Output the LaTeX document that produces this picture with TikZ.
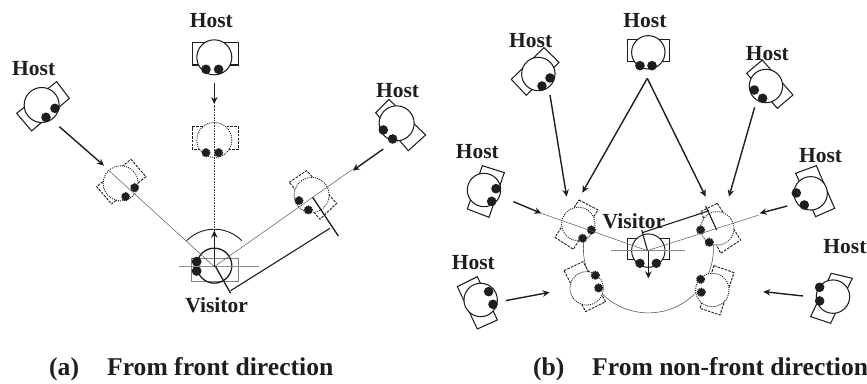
\documentclass[tikz,border=0pt]{standalone}
\usepackage{fontspec}
\setmainfont{Liberation Serif}
\usetikzlibrary{arrows.meta}
\definecolor{ink}{HTML}{1E1E1E}
\tikzset{
  hostline/.style={draw=ink,line width=1.05pt,fill=white},
  dotdisc/.style={fill=ink},
  ghostrect/.style={draw=ink,line width=0.9pt,dash pattern=on 2.6pt off 1.2pt},
  ghostring/.style={draw=ink,line width=0.9pt,dash pattern=on 1pt off 1.1pt,fill=white},
  ghostdisc/.style={draw=ink,fill=ink,line width=1.4pt,dash pattern=on 1pt off 0.8pt},
  lbl/.style={font=\bfseries\fontsize{21.5}{22}\selectfont,text=ink,inner sep=0pt},
  captxt/.style={font=\bfseries\fontsize{25.6}{26}\selectfont,text=ink,inner sep=0pt,anchor=base west},
  guide/.style={draw=black!65,line width=0.5pt},
  dotguide/.style={draw=black!75,line width=0.5pt,dash pattern=on 1pt off 0.6pt},
  cross/.style={draw=black!45,line width=0.9pt},
  mv/.style={draw=ink,line width=1.4pt,-{Stealth[length=7pt,width=6.5pt]}},
  bar/.style={draw=ink,line width=1.1pt},
  panelA/.style={x=0.3333pt,y=-0.3333pt},
  panelB/.style={x=0.3333pt,y=-0.3333pt,xshift=434pt},
}
% corners (4), centre, two discs, radius in pt
\newcommand{\hostbot}[8]{%
  \draw[hostline] #1 -- #2 -- #3 -- #4 -- cycle;
  \draw[hostline] #5 circle[radius=#8pt];
  \fill[dotdisc] #6 circle[radius=4.8pt] #7 circle[radius=4.8pt];}
\newcommand{\ghostbot}[8]{%
  \draw[ghostrect] #1 -- #2 -- #3 -- #4 -- cycle;
  \draw[ghostring] #5 circle[radius=#8pt];
  \draw[ghostdisc] #6 circle[radius=3.9pt] #7 circle[radius=3.9pt];}
\begin{document}
\begin{tikzpicture}
\useasboundingbox[fill=white] (0pt,0pt) rectangle (867pt,-383pt);
% ---------- panel (a)
\begin{scope}[panelA]
\coordinate (vA) at (643,800);
\hostbot{(170,245)}{(208,295)}{(95,393)}{(50,340)}{(125,315)}{(138,352)}{(165,325)}{17.5}
\hostbot{(577,127)}{(716,127)}{(716,195)}{(577,195)}{(643,172)}{(618,208)}{(656,208)}{17.5}
\hostbot{(1127,338)}{(1167,298)}{(1277,405)}{(1225,452)}{(1190,370)}{(1150,390)}{(1178,417)}{17.5}
\ghostbot{(393,478)}{(438,530)}{(335,612)}{(290,560)}{(362,550)}{(377,590)}{(404,563)}{17.5}
\ghostbot{(577,380)}{(715,380)}{(715,448)}{(577,448)}{(643,420)}{(618,458)}{(656,458)}{17.5}
\ghostbot{(868,547)}{(920,512)}{(1010,610)}{(960,658)}{(935,585)}{(897,602)}{(925,630)}{17.5}
\draw[draw=black!50,line width=0.9pt] (575,775) rectangle (715,845);
\draw[ink,line width=1.3pt] (643,797) circle[radius=17.5pt];
\fill[ink] (590,785) circle[radius=4.9pt] (590,813) circle[radius=4.9pt];
\coordinate (cl) at (537,800); \coordinate (cr) at (777,800);
\draw[cross] (cl) -- (cr);
\coordinate (gl) at (325,510); \coordinate (gt) at (643,315); \coordinate (gr) at (1055,510);
\draw[guide] (vA) -- (gl);
\draw[dotguide] (vA) -- (gt);
\draw[guide] (vA) -- (gr);
\draw[ink,line width=0.9pt] (560,722) arc[start angle=135,end angle=45,radius=39pt];
\coordinate (vf) at (643,692);
\draw[mv] (vA) -- (vf);
\coordinate (h1s) at (178,380); \coordinate (h1e) at (312,497);
\coordinate (h2s) at (643,248); \coordinate (h2e) at (643,312);
\coordinate (h3s) at (1150,447); \coordinate (h3e) at (1058,512);
\draw[mv] (h1s) -- (h1e);
\draw[mv] (h2s) -- (h2e);
\draw[mv] (h3s) -- (h3e);
\coordinate (b1a) at (647,800); \coordinate (b1b) at (692,880);
\coordinate (b2a) at (938,592); \coordinate (b2b) at (1015,708);
\coordinate (d1) at (692,872); \coordinate (d2) at (990,685);
\draw[bar,line width=1.3pt] (b1a) -- (b1b);
\draw[bar,line width=1.3pt] (b2a) -- (b2b);
\draw[bar] (d1) -- (d2);
\node[lbl] (ah2) at (634,62) {Host};
\node[lbl] (ah1) at (101,207) {Host};
\node[lbl] (ah3) at (1193,272) {Host};
\node[lbl] (av) at (650,917) {Visitor};
\end{scope}
% ---------- panel (b)
\begin{scope}[panelB]
\coordinate (vB) at (640,752);
\draw[guide,line width=0.6pt] (455,697) arc[start angle=165,end angle=375,x radius=65pt,y radius=64pt];
\hostbot{(330,143)}{(375,187)}{(277,286)}{(232,238)}{(313,222)}{(324,258)}{(348,234)}{16.7}
\hostbot{(580,118)}{(707,118)}{(707,184)}{(580,184)}{(643,157)}{(618,197)}{(654,197)}{16.7}
\hostbot{(938,220)}{(985,180)}{(1077,285)}{(1030,325)}{(996,258)}{(961,270)}{(986,295)}{16.7}
\hostbot{(145,497)}{(211,518)}{(165,652)}{(100,627)}{(150,570)}{(186,566)}{(173,604)}{16.7}
\hostbot{(1085,520)}{(1147,497)}{(1202,625)}{(1145,650)}{(1130,580)}{(1087,579)}{(1111,615)}{16.7}
\hostbot{(70,860)}{(130,830)}{(190,960)}{(130,987)}{(140,900)}{(164,875)}{(177,913)}{16.7}
\hostbot{(1192,820)}{(1255,835)}{(1190,970)}{(1130,950)}{(1197,890)}{(1157,862)}{(1157,903)}{16.7}
\ghostbot{(435,600)}{(492,630)}{(418,748)}{(363,712)}{(433,672)}{(472,690)}{(446,715)}{16.7}
\ghostbot{(850,610)}{(920,720)}{(860,760)}{(800,635)}{(850,685)}{(800,690)}{(826,727)}{16.7}
\ghostbot{(390,812)}{(447,785)}{(515,905)}{(455,935)}{(458,865)}{(484,826)}{(494,864)}{16.7}
\ghostbot{(840,797)}{(900,818)}{(858,945)}{(798,925)}{(835,870)}{(800,838)}{(802,877)}{16.7}
\draw[ink,line width=1pt] (580,716) rectangle (707,779);
\draw[ink,line width=1pt,fill=white] (643,752) circle[radius=16.7pt];
\fill[ink] (618,790) circle[radius=4.7pt] (667,790) circle[radius=4.7pt];
\coordinate (ccl) at (532,752); \coordinate (ccr) at (752,752);
\draw[cross] (ccl) -- (ccr);
\coordinate (gbl) at (322,640); \coordinate (gbr) at (975,645);
\draw[guide] (vB) -- (gbl);
\draw[guide] (vB) -- (gbr);
\coordinate (vbf) at (643,835); \coordinate (vbo) at (643,752);
\draw[mv] (vbo) -- (vbf);
\coordinate (t) at (640,235);
\coordinate (s1) at (348,285); \coordinate (e1) at (398,590);
\coordinate (e2) at (445,578); \coordinate (e3) at (815,590);
\coordinate (s4) at (962,322); \coordinate (e4) at (885,590);
\coordinate (s5) at (238,605); \coordinate (e5) at (322,640);
\coordinate (s6) at (1060,618); \coordinate (e6) at (977,640);
\coordinate (s7) at (215,902); \coordinate (e7) at (347,877);
\coordinate (s8) at (1107,888); \coordinate (e8) at (988,875);
\draw[mv] (s1) -- (e1);
\draw[mv] (t) -- (e2);
\draw[mv] (t) -- (e3);
\draw[mv] (s4) -- (e4);
\draw[mv] (s5) -- (e5);
\draw[mv] (s6) -- (e6);
\draw[mv] (s7) -- (e7);
\draw[mv] (s8) -- (e8);
\coordinate (bb1a) at (623,690); \coordinate (bb1b) at (640,750);
\coordinate (bb2a) at (815,618); \coordinate (bb2b) at (848,690);
\coordinate (dd1) at (625,698); \coordinate (dd2) at (826,632);
\draw[bar] (bb1a) -- (bb1b);
\draw[bar] (bb2a) -- (bb2b);
\draw[bar] (dd1) -- (dd2);
\node[lbl] (bh1) at (290,122) {Host};
\node[lbl] (bh2) at (633,62) {Host};
\node[lbl] (bh3) at (1000,160) {Host};
\node[lbl] (bh4) at (130,455) {Host};
\node[lbl] (bh5) at (1160,467) {Host};
\node[lbl] (bh6) at (118,787) {Host};
\node[lbl] (bh7) at (1233,740) {Host};
\node[lbl] (bv) at (600,665) {Visitor};
\end{scope}
\node[captxt] (capa) at (49pt,-375pt) {(a)};
\node[captxt] (capat) at (107pt,-375pt) {From front direction};
\node[captxt] (capb) at (533pt,-375pt) {(b)};
\node[captxt] (capbt) at (592pt,-375pt) {From non-front direction};
\end{tikzpicture}
\end{document}
